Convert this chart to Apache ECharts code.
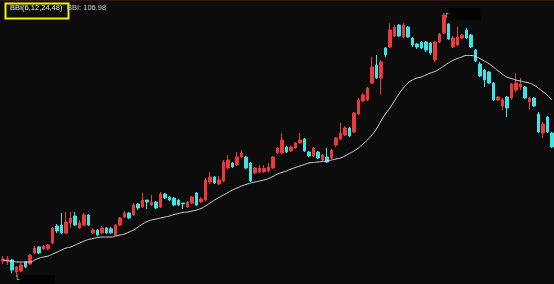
<!DOCTYPE html>
<html>
<head>
<meta charset="utf-8">
<script src="https://cdn.jsdelivr.net/npm/echarts@6/dist/echarts.min.js"></script>
<style>
html,body{margin:0;padding:0;background:#0c0c0c;}
#chart{width:554px;height:284px;}
</style>
</head>
<body>
<div id="chart"></div>
<script>
const opens = [50.65,50.7,51,46.8,47.15,50.3,49.6,53.45,55.55,54.85,
55.0,56.95,62.9,63.25,60.45,63.95,66.4,62.2,63.25,66.75,
60.45,61.5,60.45,62.2,61.9,59.75,63.25,66.05,67.45,66.75,
70.6,69.55,72,70.25,71.3,69.55,74.1,73.05,72.7,72,
70.95,69.55,70.95,74.45,71.3,72,78.3,80.05,77.6,78.65,
83.2,84.95,84.25,87.05,87.05,84.95,81.45,81.8,81.9,82.15,
83.2,88.45,88.45,90.55,89.15,90.2,91.95,93.35,88.8,87.4,
88.8,86,87.05,86.7,91.25,93.35,94.75,97.2,95.8,102.1,
106.65,107,112.95,119.25,114.7,125.2,125.55,129.4,133.25,129.05,
132.55,128.7,126.6,127.3,127.3,126.95,121,127.3,130.45,133.6,
125.55,126.25,128.7,131.5,129.75,124.5,119.6,117.5,116.8,112.95,
107,104.9,108.05,107.7,110.5,111.55,111.55,106.3,107.7,102.1,
95.45,101.05,95.45];
const closes = [51.35,51.3,47.5,48.55,49.25,48.55,52.75,55.2,53.45,55.9,
56.25,62.2,61.15,60.45,64.3,65.7,63.25,63.95,66.75,63.25,
61.5,59.75,62.2,60.45,60.5,63.25,65.7,67.45,65.7,70.25,
69.2,72,71.3,71.3,69.2,74.1,72.7,72,70.25,70.25,
70.6,71.3,73.05,70.25,72.35,79,80.05,77.95,79,85.3,
86,83.55,87.05,88.45,83.2,78.65,83.2,83.2,83.1,83.55,
87.05,90.2,93,88.8,90.55,91.95,93,89.15,87.4,90.2,
86.7,87.75,85.3,89.5,93.7,95.45,97.2,94.4,102.45,107,
108.75,111.2,118.55,114.7,120.3,122.75,131.5,132.55,129.4,133.25,
129.05,126.25,125.55,125.2,124.5,123.45,127.3,130.1,136.75,128.35,
128.7,129.05,129.75,128.7,125.55,120.65,115.4,114,112.95,107,
108.05,107,104.2,112.6,112.95,112.6,107.7,107.7,104.9,95.8,
98.6,95.8,90.55];
const lows = [49.6,49.25,46.45,45.05,46.8,48.2,49.25,53.1,53.1,54.5,
54.5,56.6,60.45,60.1,60.1,62.2,62.9,61.85,62.9,62.9,
60.1,59.4,60.1,60.1,60.1,59.4,62.9,65.7,65.35,66.4,
68.5,69.2,68.85,69.9,68.85,69.2,72.35,71.65,69.9,69.9,
68.85,69.2,70.6,69.9,70.95,71.65,77.6,77.6,77.25,78.3,
82.85,83.2,83.9,86.7,82.85,78.3,81.1,81.45,81.45,81.8,
82.85,88.1,88.1,88.45,88.8,89.85,91.6,88.8,87.05,87.05,
86.35,85.65,84.95,86.35,90.55,93,94.4,94.05,95.45,101.75,
106.3,106.65,112.6,114.35,109.1,122.05,125.2,129.05,129.05,128.7,
128.7,125.55,124.85,124.85,123.8,122.75,120.3,126.95,130.1,128,
125.2,125.9,128.35,128.35,125.2,120.3,115.05,111.55,112.6,106.65,
106.65,103.5,101.05,107,109.8,110.5,107.35,103.5,104.55,95.45,
93.7,95.45,90.2];
const highs = [52.4,52.4,51.35,48.9,49.95,50.65,53.1,55.9,55.9,56.25,
56.6,62.55,63.6,67.45,67.8,67.8,67.8,65,67.45,67.1,
62.2,61.85,62.9,62.55,62.55,63.6,66.05,68.15,67.8,70.95,
70.95,74.45,72,73.75,71.65,74.8,74.45,73.4,73.05,72.35,
70.95,71.65,73.4,74.8,73.05,79.7,81.8,80.4,80.4,86,
87.75,85.3,88.8,89.5,87.4,85.3,83.55,84.25,84.25,84.95,
87.4,90.55,95.45,90.9,90.9,92.3,95.45,93.7,89.15,90.55,
89.15,88.1,90.2,89.85,94.05,98.95,97.9,97.55,102.8,107.7,
109.45,111.55,122.05,122.75,121,125.55,133.95,133.25,133.6,133.95,
132.9,129.05,126.95,127.65,127.65,127.3,127.65,130.45,137.45,133.95,
129.4,132.55,130.1,132.2,130.1,124.85,120.3,117.85,117.15,113.3,
108.4,107.7,108.4,112.95,116.45,114.7,111.9,108.05,108.05,102.8,
99.3,101.4,95.8];
const bbi = [51,50.65,50.65,50.3,50.3,50.3,50.3,51,51.7,52.05,
52.4,53.1,53.8,54.5,55.2,55.55,56.25,56.95,57.65,58.18,
58.53,58.88,59.05,59.05,59.05,59.4,59.75,60.1,60.8,61.5,
62.55,63.6,64.48,65,65.35,65.7,66.05,66.4,66.93,67.28,
67.63,67.8,68.15,68.5,69.03,69.9,70.95,72,72.88,73.75,
74.63,75.5,76.2,76.9,77.43,77.95,78.3,78.65,79,79.53,
80.23,81.1,81.63,82.15,82.85,83.38,83.9,84.43,84.95,85.13,
85.3,85.48,85.65,86,86.35,86.7,87.4,88.28,89.15,90.2,
91.6,93,94.75,96.85,99.65,102.1,104.2,106.65,109.1,111.2,
112.95,114,114.7,115.05,115.75,116.45,116.98,117.85,118.9,119.95,
120.83,121.53,122.05,122.58,122.58,122.23,121.53,120.65,119.78,118.55,
117.33,116.1,115.05,114.53,114,113.65,113.3,112.95,112.25,111.2,
109.98,108.75,106.98];
const categories = opens.map((_, i) => 'D' + (i + 1));
const legendTitle = 'BBI(6,12,24,48)';
const legendValue = 'BBI: 106.98';

const ohlc = opens.map((o, i) => [o, closes[i], lows[i], highs[i]]);

const chart = echarts.init(document.getElementById('chart'), null, {renderer: 'canvas'});
chart.setOption({
  backgroundColor: '#0c0c0c',
  animation: false,
  grid: {left: 1, right: 0, top: 0, bottom: 0},
  xAxis: {type: 'category', data: categories, boundaryGap: true, show: false},
  yAxis: {type: 'value', min: 42.6, max: 142, show: false, splitLine: {show: false}},
  series: [
    {
      type: 'candlestick',
      data: ohlc,
      barWidth: 3,
      itemStyle: {
        color: '#ec3a3a', color0: '#3fe3e3',
        borderColor: '#ec3a3a', borderColor0: '#3fe3e3', borderWidth: 1
      },
      markPoint: {
        symbol: 'rect', symbolSize: [0.1, 0.1],
        itemStyle: {color: 'rgba(0,0,0,0)'},
        data: [
          {type: 'max', valueDim: 'highest',
           label: {show: true, position: 'right', distance: 0, offset: [0, 1],
             formatter: '{g|┌}{b|}',
             rich: {g: {color: '#bbbbbb', fontSize: 8, fontFamily: 'DejaVu Sans'},
                    b: {width: 32, height: 12, backgroundColor: '#030303'}}}},
          {type: 'min', valueDim: 'lowest',
           label: {show: true, position: 'right', distance: 0, offset: [-2, 3],
             formatter: '{g|└}{b|}',
             rich: {g: {color: '#bbbbbb', fontSize: 8, fontFamily: 'DejaVu Sans'},
                    b: {width: 35, height: 10, backgroundColor: '#030303'}}}}
        ]
      }
    },
    {
      type: 'line',
      data: bbi,
      symbol: 'none',
      smooth: true,
      lineStyle: {color: '#dcdcdc', width: 1}
    }
  ],
  graphic: [
    {type: 'rect', left: 0, top: 0, shape: {width: 554, height: 1}, style: {fill: '#3a1414'}, z: 100},
    {type: 'rect', left: 3, top: 1, shape: {x: 0, y: 0, width: 63, height: 15},
     style: {fill: 'none', stroke: '#f2f200', lineWidth: 2}, z: 100},
    {type: 'text', left: 10, top: 4,
     style: {text: legendTitle, fill: '#f0f0f0', font: '7.5px "Liberation Sans", Arial, sans-serif'}, z: 100},
    {type: 'text', left: 67, top: 4,
     style: {text: legendValue, fill: '#cfcfcf', font: '7.5px "Liberation Sans", Arial, sans-serif'}, z: 100}
  ]
});
</script>
</body>
</html>
